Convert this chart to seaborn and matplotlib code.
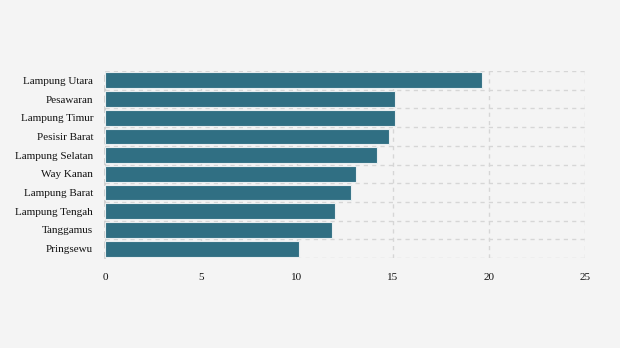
import matplotlib
matplotlib.use("Agg")
import matplotlib.pyplot as plt
import seaborn as sns
import pandas as pd
import numpy as np

regions = ["Lampung Utara", "Pesawaran", "Lampung Timur", "Pesisir Barat", "Lampung Selatan",
           "Way Kanan", "Lampung Barat", "Lampung Tengah", "Tanggamus", "Pringsewu"]
values = [19.65, 15.1, 15.1, 14.79, 14.17, 13.09, 12.81, 11.98, 11.84, 10.1]
xticks = [0, 5, 10, 15, 20, 25]

sns.set_theme(style="white")
plt.rcParams['font.family'] = ['Liberation Serif', 'DejaVu Serif']

df = pd.DataFrame({"region": regions, "value": values})

fig = plt.figure(figsize=(6.2, 3.48), dpi=100, facecolor="#f4f4f4")
ax = fig.add_axes([105/620, 1-258/348, 480/620, 187/348])
ax.set_facecolor("#f4f4f4")

sns.barplot(data=df, y="region", x="value", color="#306f83", saturation=1,
            width=0.84, edgecolor="#e8eef0", linewidth=0.8, ax=ax, zorder=3)

ax.set_xlim(0, 25)
ax.set_ylim(len(regions)-0.5, -0.5)
ax.set_xticks(xticks)
ax.set_xticklabels([str(t) for t in xticks])
ax.set_xlabel("")
ax.set_ylabel("")

ax.set_yticks(np.arange(-0.5, len(regions), 1), minor=True)
ax.grid(axis="x", which="major", color="#d6d6d6", linestyle=(0, (3, 3)), linewidth=1, zorder=0)
ax.grid(axis="y", which="minor", color="#d6d6d6", linestyle=(0, (3, 3)), linewidth=1, zorder=0)
ax.tick_params(axis="y", which="minor", length=0)
ax.tick_params(axis="y", which="major", length=3.5, color="#cccccc", width=0.8, pad=5, labelsize=8, labelcolor="#111111")
ax.tick_params(axis="x", which="major", length=0, pad=11, labelsize=8, labelcolor="#111111")

for s in ["top", "right", "bottom"]:
    ax.spines[s].set_visible(False)
ax.spines["left"].set_color("#cccccc")
ax.spines["left"].set_linestyle((0, (3, 3)))

fig.savefig("out.png", dpi=100, facecolor="#f4f4f4")
